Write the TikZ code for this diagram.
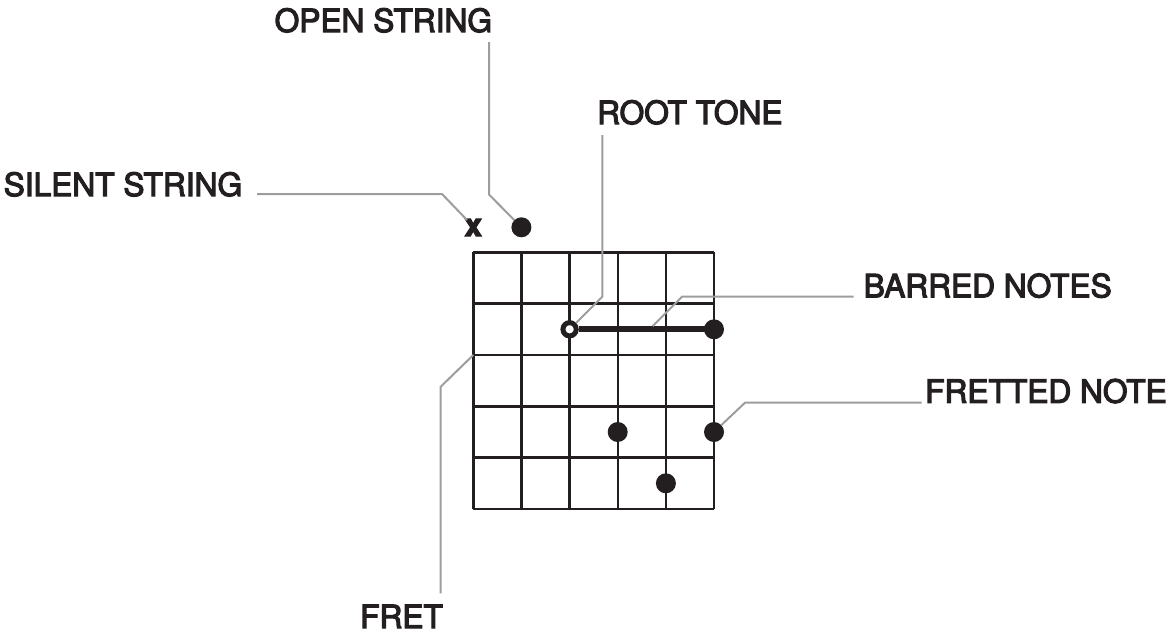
\documentclass[tikz,border=0pt]{standalone}
\usepackage{fontspec}
\setmainfont{TeX Gyre Heros}[FakeBold=3.5,FakeStretch=0.99]
\definecolor{ink}{HTML}{231F20}
\definecolor{lead}{HTML}{9D9D9D}
\begin{document}
\begin{tikzpicture}[x=1pt,y=-1pt,
  lbl/.style={font=\fontsize{32}{36}\selectfont, text=ink, inner sep=0pt, anchor=base west},
  leader/.style={draw=lead, line width=2pt},
  gridline/.style={draw=ink, line width=2.4pt},
  dotnote/.style={circle, fill=ink, minimum size=20pt, inner sep=0pt, outer sep=0pt},
  rootnote/.style={circle, draw=ink, fill=white, line width=5pt, minimum size=13.3pt, inner sep=0pt},
  barre/.style={draw=ink, line width=6pt}]
\useasboundingbox (0,0) rectangle (1166,635);
% grid
\foreach \i in {0,...,5} {
  \draw[gridline] (473.3+48.15*\i,252.3) -- (473.3+48.15*\i,509);
  \draw[gridline] (473.3,252.3+51.34*\i) -- (714,252.3+51.34*\i);
}
\coordinate (fret2) at (473.3,355);
% marks above the nut
\node[font=\fontsize{32}{36}\selectfont\bfseries, text=ink, inner sep=0pt] (silent) at (473.3,227.5) {x};
\node[dotnote] (open) at (521.4,227.3) {};
% notes
\node[rootnote] (root) at (569.6,329.3) {};
\node[dotnote] (bend) at (714,329.3) {};
\node[dotnote] (n1) at (617.7,432) {};
\node[dotnote] (n2) at (714,432) {};
\node[dotnote] (n3) at (665.9,483.3) {};
\draw[barre] (root) -- (bend.center);
% labels
\node[lbl] (lopen) at (274.5,32) {OPEN STRING};
\node[lbl] (lroot) at (597,124) {ROOT TONE};
\node[lbl] (lsilent) at (3.5,196) {SILENT STRING};
\node[lbl] (lbarred) at (863.5,297.3) {BARRED NOTES};
\node[lbl] (lfretted) at (925,402.7) {FRETTED NOTE};
\node[lbl] (lfret) at (360,628) {FRET};
% leaders
\coordinate (s0) at (257,194); \coordinate (s1) at (442,194); \coordinate (s2) at (467,220);
\draw[leader] (s0) -- (s1) -- (s2);
\coordinate (o0) at (489,42); \coordinate (o1) at (489,194.5);
\draw[leader] (o0) -- (o1) -- (open);
\coordinate (r0) at (602.3,135); \coordinate (r1) at (602.3,296.7);
\draw[leader] (r0) -- (r1) -- (root);
\coordinate (b0) at (853.5,296.7); \coordinate (b1) at (682,296.7); \coordinate (b2) at (652.5,326.2);
\draw[leader] (b0) -- (b1) -- (b2);
\coordinate (f0) at (921.7,402.7); \coordinate (f1) at (745,402.7);
\draw[leader] (f0) -- (f1) -- (n2);
\coordinate (t0) at (440.7,593.3); \coordinate (t1) at (440.7,386.7);
\draw[leader] (t0) -- (t1) -- (fret2);
\end{tikzpicture}
\end{document}
